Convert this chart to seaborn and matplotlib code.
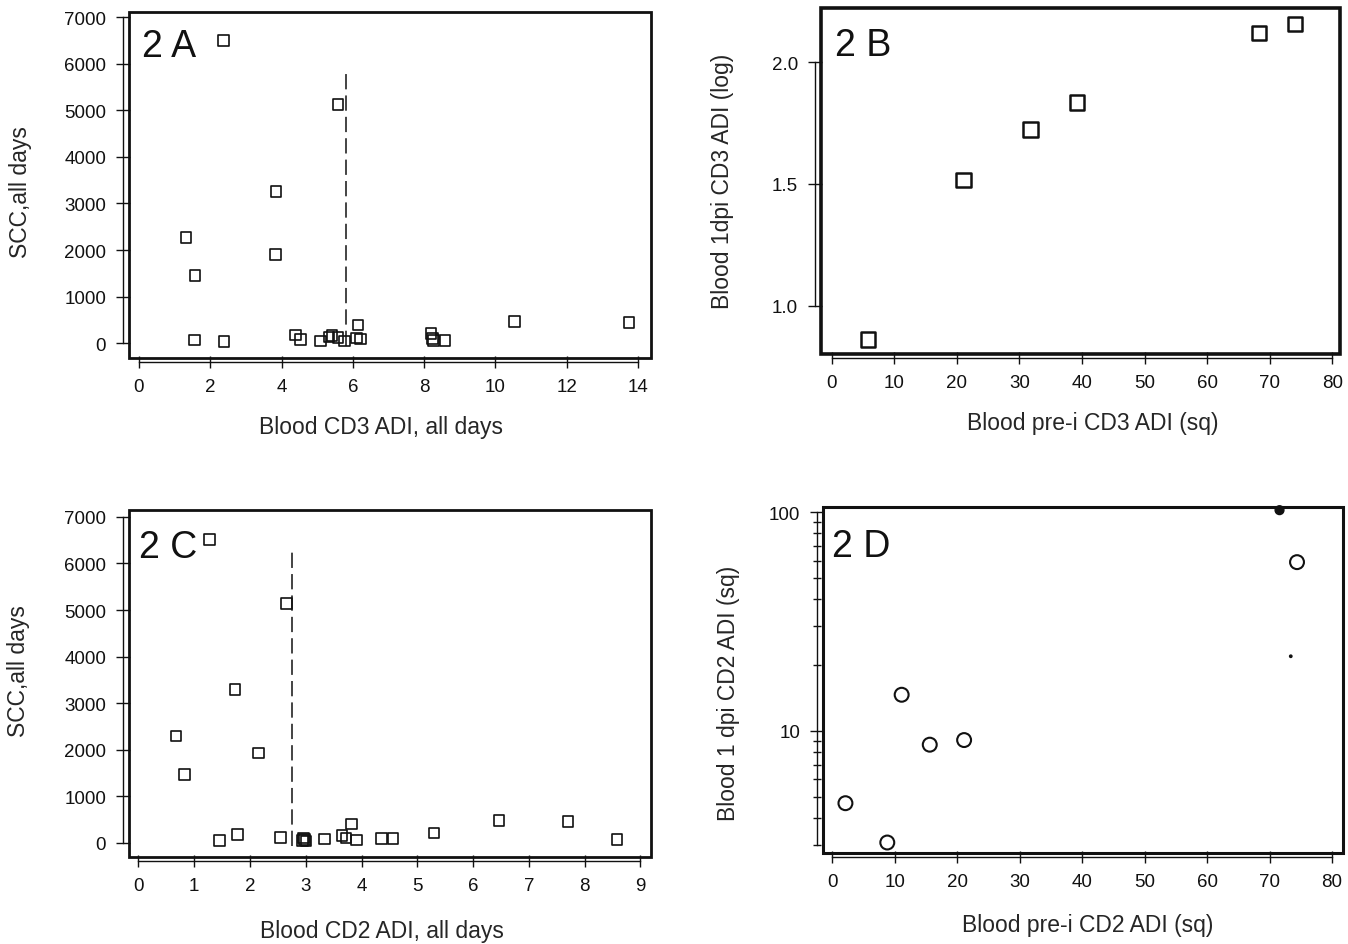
import matplotlib as mpl
mpl.use('Agg')
import matplotlib.pyplot as plt
import matplotlib.ticker as mticker
from matplotlib.patches import Rectangle
import seaborn as sns
import pandas as pd

sns.set_style('white')
plt.rcParams['font.family'] = ['Liberation Sans', 'DejaVu Sans']
plt.rcParams['text.color'] = '#111111'

# 2A: SCC vs blood CD3 ADI (all days)
a_cd3 = [2.37, 5.58, 1.32, 1.57, 3.84, 3.83, 1.55, 2.38, 4.40, 4.53, 5.09, 5.33,
         5.42, 5.59, 5.76, 6.15, 6.11, 6.22, 8.19, 8.23, 8.27, 8.59, 10.53, 13.75]
a_scc = [6500, 5120, 2270, 1450, 3260, 1900, 70, 40, 180, 80, 45, 130,
         170, 125, 45, 390, 110, 90, 210, 100, 60, 55, 470, 445]
a_cut = 5.80

# 2B: blood 1dpi CD3 ADI (log) vs pre-i CD3 ADI (sq)
b_pre = [5.8, 21.1, 31.8, 39.2, 68.3, 74.0]
b_dpi1 = [0.86, 1.515, 1.724, 1.834, 2.12, 2.157]

# 2C: SCC vs blood CD2 ADI (all days)
c_cd2 = [1.27, 2.65, 0.67, 0.83, 1.73, 2.15, 1.45, 1.77, 2.55, 2.94, 2.98, 2.96,
         3.00, 3.34, 3.65, 3.72, 3.82, 3.91, 4.36, 4.56, 5.30, 6.46, 7.70, 8.58]
c_scc = [6520, 5140, 2290, 1470, 3290, 1930, 45, 180, 110, 50, 75, 100,
         40, 85, 160, 100, 400, 55, 90, 90, 210, 480, 455, 75]
c_cut = 2.75

# 2D: blood 1 dpi CD2 ADI (sq, log axis) vs pre-i CD2 ADI (sq)
d_pre = [2.1, 8.8, 11.1, 15.6, 21.1, 74.4]
d_dpi1 = [4.66, 3.08, 14.6, 8.63, 9.06, 59.0]
d_dot_x = [71.6, 73.4]
d_dot_y = [102, 21.9]
d_dot_size = [40, 3]

INK = '#111111'
TICK_FS = 13.5
LABEL_FS = 16.5


def style_axes(ax, xbounds, ybounds, box_lw):
  for side in ['top', 'right']:
    ax.spines[side].set_visible(False)
  ax.spines['left'].set_position(('outward', 4.5))
  ax.spines['bottom'].set_position(('outward', 3))
  ax.spines['left'].set_bounds(*ybounds)
  ax.spines['bottom'].set_bounds(*xbounds)
  for side in ['left', 'bottom']:
    ax.spines[side].set_linewidth(1.0)
    ax.spines[side].set_color(INK)
  ax.tick_params(axis='y', which='major', direction='inout', length=10, width=1.0,
                 pad=7, labelsize=TICK_FS, colors=INK, left=True)
  ax.tick_params(axis='x', which='major', direction='inout', length=9, width=1.0,
                 pad=7, labelsize=TICK_FS, colors=INK, bottom=True)
  ax.add_patch(Rectangle((0, 0), 1, 1, transform=ax.transAxes, fill=False,
                         lw=box_lw, ec=INK, clip_on=False, zorder=5))
  ax.grid(False)


def panel(ax, x, y, marker, size, lw):
  df = pd.DataFrame({'x': x, 'y': y})
  sns.scatterplot(data=df, x='x', y='y', ax=ax, marker=marker, s=size,
                  facecolor='none', edgecolor=INK, linewidth=lw, zorder=3)


fig = plt.figure(figsize=(13.48, 9.45), dpi=100)

# ---- 2A
ax = fig.add_axes([0.0957, 0.620, 0.3873, 0.366])
panel(ax, a_cd3, a_scc, 's', 58, 1.2)
ax.plot([a_cut, a_cut], [-50, 5820], color=INK, lw=1.1, dashes=(10, 4))
ax.set_xlim(-0.28, 14.37)
ax.set_ylim(-320, 7107)
ax.set_xticks(range(0, 15, 2))
ax.set_yticks(range(0, 7001, 1000))
style_axes(ax, (0, 14), (0, 7000), 2.0)
ax.set_xlabel('Blood CD3 ADI, all days', fontsize=LABEL_FS)
ax.set_ylabel('SCC,all days', fontsize=LABEL_FS)
ax.xaxis.set_label_coords(0.483, -0.165)
ax.yaxis.set_label_coords(-0.186, 0.483)
ax.text(0.025, 0.955, '2 A', transform=ax.transAxes, fontsize=27, va='top', ha='left')

# ---- 2B
ax = fig.add_axes([0.609, 0.624, 0.385, 0.366])
panel(ax, b_pre, b_dpi1, 's', 110, 1.8)
ax.set_xlim(-1.7, 81.2)
ax.set_ylim(0.80, 2.22)
ax.set_xticks(range(0, 81, 10))
ax.set_yticks([1.0, 1.5, 2.0])
ax.yaxis.set_major_formatter(mticker.FormatStrFormatter('%.1f'))
style_axes(ax, (0, 80), (1.0, 2.0), 2.6)
ax.set_xlabel('Blood pre-i CD3 ADI (sq)', fontsize=LABEL_FS)
ax.set_ylabel('Blood 1dpi CD3 ADI (log)', fontsize=LABEL_FS)
ax.xaxis.set_label_coords(0.524, -0.165)
ax.yaxis.set_label_coords(-0.168, 0.504)
ax.text(0.028, 0.945, '2 B', transform=ax.transAxes, fontsize=27, va='top', ha='left')

# ---- 2C
ax = fig.add_axes([0.0957, 0.092, 0.3873, 0.367])
panel(ax, c_cd2, c_scc, 's', 58, 1.2)
ax.plot([c_cut, c_cut], [-60, 6300], color=INK, lw=1.1, dashes=(10, 4))
ax.set_xlim(-0.17, 9.19)
ax.set_ylim(-307, 7143)
ax.set_xticks(range(0, 10))
ax.set_yticks(range(0, 7001, 1000))
style_axes(ax, (0, 9), (0, 7000), 2.0)
ax.set_xlabel('Blood CD2 ADI, all days', fontsize=LABEL_FS)
ax.set_ylabel('SCC,all days', fontsize=LABEL_FS)
ax.xaxis.set_label_coords(0.485, -0.178)
ax.yaxis.set_label_coords(-0.19, 0.54)
ax.text(0.02, 0.945, '2 C', transform=ax.transAxes, fontsize=27, va='top', ha='left')

# ---- 2D
ax = fig.add_axes([0.6105, 0.096, 0.3855, 0.366])
panel(ax, d_pre, d_dpi1, 'o', 100, 1.5)
ax.scatter(d_dot_x, d_dot_y, s=d_dot_size, color=INK, zorder=6, clip_on=False)
ax.set_yscale('log')
ax.set_xlim(-1.5, 81.7)
ax.set_ylim(2.75, 105)
ax.set_xticks(range(0, 81, 10))
ax.yaxis.set_major_locator(mticker.FixedLocator([10, 100]))
ax.yaxis.set_major_formatter(mticker.FixedFormatter(['10', '100']))
ax.yaxis.set_minor_locator(mticker.LogLocator(subs=range(2, 10)))
ax.yaxis.set_minor_formatter(mticker.NullFormatter())
style_axes(ax, (0, 80), (3, 100), 2.2)
ax.tick_params(axis='y', which='minor', direction='inout', length=6, width=1.0,
               colors=INK, left=True)
ax.set_xlabel('Blood pre-i CD2 ADI (sq)', fontsize=LABEL_FS)
ax.set_ylabel('Blood 1 dpi CD2 ADI (sq)', fontsize=LABEL_FS)
ax.xaxis.set_label_coords(0.51, -0.172)
ax.yaxis.set_label_coords(-0.16, 0.465)
ax.text(0.018, 0.94, '2 D', transform=ax.transAxes, fontsize=27, va='top', ha='left')

fig.savefig('out.png', dpi=100)
